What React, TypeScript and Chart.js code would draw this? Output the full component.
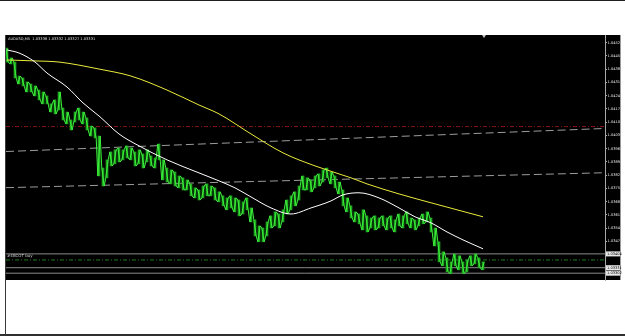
import React, { useEffect, useRef } from "react";
import { Chart, registerables } from "chart.js";

Chart.register(...registerables);

const HEADER_TEXT = "AUDUSD,M5  1.03338 1.03332 1.03327 1.03331";
const SIGNAL_LABEL = "#4BCOT buy";

// candle highs / lows (AUDUSD M5)
const HIGHS = [
  1.04492, 1.0444, 1.04418, 1.04344, 1.04334, 1.04313, 1.04302, 1.04292, 1.0427, 1.0426,
  1.04239, 1.04197, 1.04218, 1.0426, 1.04175, 1.04154, 1.04112, 1.04154, 1.04175, 1.04154,
  1.04123, 1.0408, 1.0407, 1.04027, 1.03858, 1.03901, 1.03943, 1.03954, 1.03964, 1.03954,
  1.03975, 1.03964, 1.03943, 1.03954, 1.03932, 1.03954, 1.03922, 1.03911, 1.03985, 1.03901,
  1.03858, 1.03848, 1.03837, 1.03816, 1.03806, 1.03795, 1.03774, 1.03753, 1.03742, 1.03763,
  1.03774, 1.03763, 1.03753, 1.03732, 1.03711, 1.037, 1.03711, 1.037, 1.03689, 1.03679,
  1.037, 1.03647, 1.03584, 1.03552, 1.03541, 1.03573, 1.03605, 1.03626, 1.03615, 1.03637,
  1.03689, 1.03711, 1.03732, 1.03763, 1.03816, 1.03806, 1.03795, 1.03816, 1.03827, 1.03848,
  1.03858, 1.03837, 1.03816, 1.03784, 1.03742, 1.037, 1.03658, 1.03626, 1.03615, 1.03637,
  1.03605, 1.03594, 1.03605, 1.03594, 1.03605, 1.03594, 1.03605, 1.03584, 1.03615, 1.03605,
  1.03626, 1.03594, 1.03584, 1.03594, 1.03615, 1.03626, 1.03594, 1.03541, 1.03468, 1.03415,
  1.03383, 1.03362, 1.03404, 1.03394, 1.03362, 1.03372, 1.03394, 1.03404, 1.03383, 1.03362,
];
const LOWS = [
  1.04418, 1.04408, 1.04334, 1.04302, 1.04292, 1.0426, 1.0426, 1.04239, 1.04218, 1.04197,
  1.04197, 1.04154, 1.04144, 1.04165, 1.04112, 1.04091, 1.04059, 1.04101, 1.04112, 1.04091,
  1.04059, 1.04027, 1.04017, 1.03816, 1.03763, 1.03806, 1.03869, 1.0388, 1.0389, 1.03901,
  1.03911, 1.03901, 1.03869, 1.0388, 1.03858, 1.0389, 1.03869, 1.03858, 1.03901, 1.03795,
  1.03784, 1.03774, 1.03763, 1.03753, 1.03742, 1.03742, 1.03711, 1.037, 1.03689, 1.037,
  1.03711, 1.03711, 1.03689, 1.03679, 1.03658, 1.03637, 1.03647, 1.03626, 1.03605, 1.03615,
  1.03637, 1.03573, 1.03499, 1.03468, 1.03468, 1.03499, 1.03541, 1.03552, 1.03541, 1.03573,
  1.03615, 1.03637, 1.03658, 1.03689, 1.03742, 1.03742, 1.03732, 1.03753, 1.03763, 1.03784,
  1.03806, 1.03774, 1.03753, 1.03721, 1.03658, 1.03626, 1.03594, 1.03573, 1.03563, 1.03531,
  1.0352, 1.03541, 1.03531, 1.03541, 1.03552, 1.03531, 1.03541, 1.0352, 1.03552, 1.03541,
  1.03563, 1.03541, 1.03531, 1.03552, 1.03563, 1.03573, 1.0352, 1.03446, 1.03362, 1.03341,
  1.03309, 1.03299, 1.03341, 1.0332, 1.03299, 1.03309, 1.03341, 1.03351, 1.0333, 1.0332,
];

// slow moving average (yellow), sampled at bar indices
const MA_SLOW_BARS = [0, 7, 13, 23, 31, 40, 48, 53, 61, 69, 77, 86, 90, 98, 106, 119];
const MA_SLOW = [
  1.04429, 1.04424, 1.04418, 1.04381, 1.04344, 1.0427, 1.04191, 1.04144, 1.04038, 1.03938,
  1.03869, 1.03806, 1.03774, 1.03721, 1.03674, 1.036,
];

// fast moving average (white)
const MA_FAST_BARS = [0, 3, 7, 10, 15, 19, 23, 28, 33, 40, 48, 53, 57, 61, 66, 71, 76, 81, 84, 88, 93, 98, 102, 106, 110, 114, 119];
const MA_FAST = [
  1.04482, 1.04466, 1.04418, 1.0436, 1.04286, 1.04202, 1.04133, 1.04038, 1.03975, 1.03901,
  1.03832, 1.0379, 1.03753, 1.03705, 1.03647, 1.03615, 1.03647, 1.03684, 1.03716, 1.03727,
  1.037, 1.03647, 1.036, 1.03568, 1.0352, 1.03478, 1.03431,
];

// trend lines (value at left edge, value at right edge)
const TREND_UPPER = [1.03945, 1.04067];
const TREND_LOWER = [1.03754, 1.03833];
const RED_LEVEL = 1.04077;
const GREEN_LEVEL = 1.03372;
const GRAY_LEVELS = [1.03404, 1.03331, 1.03302];

const Y_TICKS = [
  1.0452, 1.0445, 1.0438, 1.0431, 1.0424, 1.0417, 1.041, 1.0403, 1.0396, 1.0389,
  1.0382, 1.0375, 1.0368, 1.0361, 1.0354, 1.0347, 1.034, 1.0333,
];
const Y_MIN = 1.03266;
const Y_MAX = 1.04561;
const X_MIN = -0.25;
const X_MAX = 149.5;

const W = 625;
const H = 336;

const mtPlugin = {
  id: "mtPlugin",
  beforeDraw(chart: any) {
    const ctx = chart.ctx;
    ctx.save();
    ctx.fillStyle = "#ffffff";
    ctx.fillRect(0, 0, W, H);
    ctx.fillStyle = "#000000";
    ctx.fillRect(5, 35, 616, 245);
    ctx.fillStyle = "#202020";
    ctx.fillRect(0, 0, W, 1);
    ctx.fillStyle = "#3a3a3a";
    ctx.fillRect(5, 35, 1, H - 35);
    ctx.fillStyle = "#303030";
    ctx.fillRect(0, 334, W, 2);
    ctx.restore();
  },
  afterDraw(chart: any) {
    const ctx = chart.ctx;
    const ys = chart.scales.y;
    ctx.save();
    ctx.fillStyle = "#9a9a9a";
    ctx.fillRect(620, 35, 1, 245);
    ctx.fillStyle = "#e0e0e0";
    ctx.font = '3.6px "DejaVu Sans"';
    ctx.textBaseline = "middle";
    ctx.textAlign = "left";
    ctx.fillText(HEADER_TEXT, 8, 39.5);
    ctx.font = '4px "DejaVu Sans"';
    ctx.fillStyle = "#cfcfcf";
    ctx.fillText(SIGNAL_LABEL, 7, ys.getPixelForValue(GREEN_LEVEL) - 3.5);
    ctx.fillStyle = "#c8c8c8";
    ctx.beginPath();
    ctx.moveTo(482, 35);
    ctx.lineTo(486, 35);
    ctx.lineTo(484, 38);
    ctx.closePath();
    ctx.fill();
    ctx.font = '3.6px "DejaVu Sans"';
    GRAY_LEVELS.forEach((v) => {
      const y = ys.getPixelForValue(v);
      ctx.fillStyle = "#e8e8e8";
      ctx.fillRect(606, y - 2.5, 14, 5);
      ctx.fillStyle = "#000000";
      ctx.fillText(v.toFixed(5), 607, y);
    });
    ctx.restore();
  },
};

function levelLine(v0: number, v1: number) {
  return [
    { x: X_MIN, y: v0 },
    { x: X_MAX, y: v1 },
  ];
}

export default function App() {
  const ref = useRef<HTMLCanvasElement | null>(null);

  useEffect(() => {
    if (!ref.current) return;
    const candles = HIGHS.map((h, i) => ({ x: i, y: [LOWS[i], h] }));
    // price path through each bar's high and low (drawn as a jagged trace)
    const trace = HIGHS.flatMap((h, i) =>
      i % 2 === 0
        ? [
            { x: i - 0.3, y: h },
            { x: i + 0.3, y: LOWS[i] },
          ]
        : [
            { x: i - 0.3, y: LOWS[i] },
            { x: i + 0.3, y: h },
          ]
    );
    const slow = MA_SLOW_BARS.map((x, i) => ({ x, y: MA_SLOW[i] }));
    const fast = MA_FAST_BARS.map((x, i) => ({ x, y: MA_FAST[i] }));
    const lineBase = {
      type: "line" as const,
      pointRadius: 0,
      borderWidth: 1,
      fill: false,
    };
    const chart = new Chart(ref.current, {
      type: "bar",
      data: {
        datasets: [
          {
            ...lineBase,
            data: levelLine(RED_LEVEL, RED_LEVEL),
            borderColor: "#8a1414",
            borderDash: [4, 2, 1, 2],
            order: 9,
          } as any,
          {
            ...lineBase,
            data: levelLine(TREND_UPPER[0], TREND_UPPER[1]),
            borderColor: "#9c9c9c",
            borderDash: [8, 4],
            order: 8,
          },
          {
            ...lineBase,
            data: levelLine(TREND_LOWER[0], TREND_LOWER[1]),
            borderColor: "#9c9c9c",
            borderDash: [8, 4],
            order: 8,
          },
          {
            ...lineBase,
            data: levelLine(GREEN_LEVEL, GREEN_LEVEL),
            borderColor: "#1d7a1d",
            borderDash: [4, 2, 1, 2],
            order: 8,
          },
          ...GRAY_LEVELS.map((v) => ({
            ...lineBase,
            data: levelLine(v, v),
            borderColor: "#8c8c8c",
            order: 8,
          })),
          {
            type: "bar" as const,
            data: candles as any,
            backgroundColor: "#1fa81f",
            borderWidth: 0,
            barThickness: 2,
            order: 6,
          },
          {
            ...lineBase,
            data: trace,
            borderColor: "#3cf03c",
            order: 5,
          },
          {
            ...lineBase,
            data: slow,
            borderColor: "#eaea3c",
            cubicInterpolationMode: "monotone",
            order: 2,
          },
          {
            ...lineBase,
            data: fast,
            borderColor: "#ffffff",
            cubicInterpolationMode: "monotone",
            order: 1,
          },
        ] as any,
      },
      options: {
        animation: false,
        responsive: false,
        devicePixelRatio: 1,
        events: [],
        layout: { padding: { left: 6, right: 5, top: 35, bottom: 56 } },
        plugins: { legend: { display: false }, tooltip: { enabled: false } },
        scales: {
          x: {
            type: "linear",
            min: X_MIN,
            max: X_MAX,
            offset: false,
            display: false,
          },
          y: {
            position: "right",
            min: Y_MIN,
            max: Y_MAX,
            afterBuildTicks: (scale: any) => {
              scale.ticks = Y_TICKS.map((v) => ({ value: v }));
            },
            afterFit: (scale: any) => {
              scale.width = 15;
            },
            border: { display: true, color: "#a8a8a8" },
            grid: {
              drawOnChartArea: false,
              drawTicks: true,
              tickLength: 2,
              color: "#a8a8a8",
            },
            ticks: {
              padding: 0.5,
              color: "#e8e8e8",
              font: { size: 3.6, family: "DejaVu Sans" },
              callback: (v: any) => Number(v).toFixed(5),
            },
          },
        },
      } as any,
      plugins: [mtPlugin],
    });
    return () => chart.destroy();
  }, []);

  return (
    <div style={{ position: "fixed", left: 0, top: 0, width: W, height: H }}>
      <canvas ref={ref} width={W} height={H} style={{ display: "block" }} />
    </div>
  );
}
